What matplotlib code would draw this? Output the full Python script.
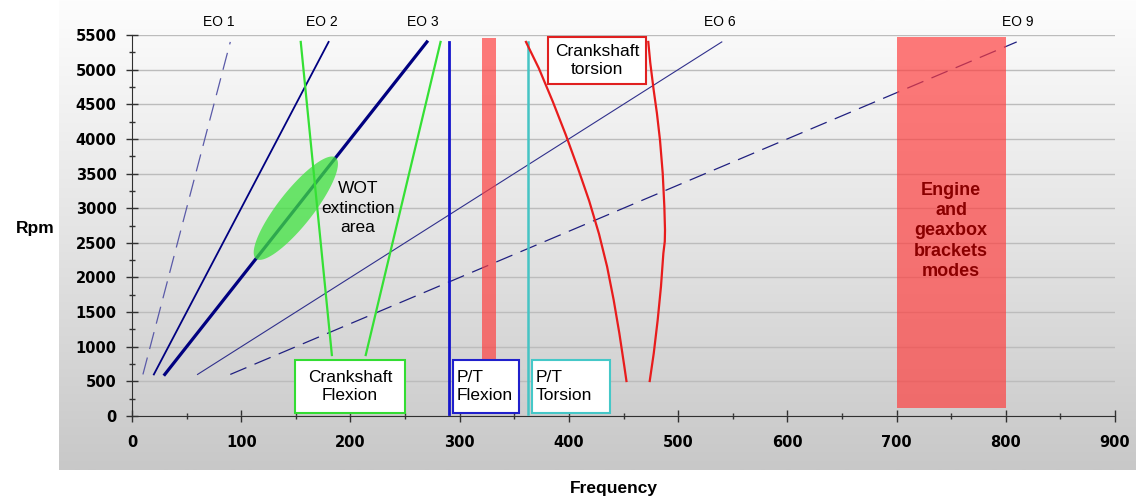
import numpy as np
import matplotlib
matplotlib.use('Agg')
import matplotlib.pyplot as plt
from matplotlib.patches import Rectangle, Polygon
from matplotlib.colors import LinearSegmentedColormap

plt.rcParams['font.family'] = ['Liberation Sans', 'DejaVu Sans']

# engine order lines: frequency at 600 rpm and 5400 rpm
eo_names = ['EO 1', 'EO 2', 'EO 3', 'EO 6', 'EO 9']
eo_rpm = [600, 5400]
eo_f_low = [10, 20, 30, 60, 90]
eo_f_high = [90, 180, 270, 540, 810]
eo_label_f = [79, 174, 266, 538, 811]

# crankshaft flexion (green lines)
flex1_f = [154.5, 183]
flex1_rpm = [5400, 880]
flex2_f = [282.5, 214]
flex2_rpm = [5400, 880]

# crankshaft torsion (red curves)
tors1_f = [360.7, 372.5, 385.3, 397.2, 408.3, 418.6, 427.6, 435.0, 441.0, 446.2, 450.8, 452.7]
tors1_rpm = [5400, 5019, 4537, 4057, 3576, 3104, 2627, 2155, 1675, 1194, 712, 505]
tors2_f = [472.7, 474.5, 477.5, 480.6, 483.4, 485.9, 487.4, 488.0, 487.8, 486.5, 484.3, 481.3, 477.7, 474.0]
tors2_rpm = [5400, 5100, 4720, 4370, 3985, 3504, 3022, 2685, 2520, 2349, 1867, 1386, 905, 505]

# P/T modes (vertical lines)
pt_flexion_f = 290
pt_torsion_f = 362.5
pt_rpm = [30, 5400]

# red bands
band1_f = [320.5, 333.5]
band1_rpm = [808, 5450]
band2_f = [700, 800]
band2_rpm = [115, 5470]

# WOT extinction area (ellipse along EO 3)
wot_center = (150, 3000)

fig = plt.figure(figsize=(11.36, 4.96), dpi=100)

# gray gradient panel behind the chart
bg = fig.add_axes([59 / 1136, 26 / 496, 1 - 59 / 1136, 470 / 496])
grad = np.linspace(0, 1, 256).reshape(-1, 1)
cmap = LinearSegmentedColormap.from_list('bg', ['#fdfdfd', '#e4e4e4', '#c8c8c8'])
bg.imshow(grad, aspect='auto', cmap=cmap, extent=[0, 1, 0, 1])
bg.axis('off')

ax = fig.add_axes([132 / 1136, 80 / 496, 983 / 1136, 381 / 496])
ax.patch.set_alpha(0)
ax.set_xlim(0, 900)
ax.set_ylim(0, 5500)
ax.set_xticks(range(0, 901, 100))
ax.set_xticks(range(50, 900, 100), minor=True)
ax.set_yticks(range(0, 5501, 500))
ax.set_yticks(range(250, 5500, 500), minor=True)
ax.yaxis.grid(True, color='#bcbcbc', lw=1)
ax.set_axisbelow(True)
for s in ['top', 'right']:
    ax.spines[s].set_visible(False)
for s in ['left', 'bottom']:
    ax.spines[s].set_color('#303030')
ax.tick_params(which='major', direction='inout', length=8, width=1, color='#303030')
ax.tick_params(which='minor', direction='inout', length=5, width=1, color='#303030')
ax.tick_params(axis='x', pad=10)
ax.tick_params(axis='y', pad=7)
for lbl in ax.get_xticklabels() + ax.get_yticklabels():
    lbl.set_fontweight('bold')
    lbl.set_family('DejaVu Sans')
    lbl.set_fontsize(10.5)

# engine order lines
eo_styles = [
    dict(color='#5a5aa8', lw=0.9, dashes=(14, 7)),
    dict(color='#000080', lw=1.3),
    dict(color='#000080', lw=2.3),
    dict(color='#30308c', lw=0.8),
    dict(color='#202080', lw=0.9, dashes=(14, 7)),
]
for name, f0, f1, lf, st in zip(eo_names, eo_f_low, eo_f_high, eo_label_f, eo_styles):
    ax.plot([f0, f1], eo_rpm, zorder=3, **st)
    ax.text(lf, 5690, name, ha='center', va='center', fontsize=10, clip_on=False)

# WOT ellipse
t = np.linspace(0, 2 * np.pi, 100)
u = np.array([36.5, 730])
v = np.array([-12.5, 156])
pts = np.column_stack([wot_center[0] + u[0] * np.cos(t) + v[0] * np.sin(t),
                       wot_center[1] + u[1] * np.cos(t) + v[1] * np.sin(t)])
ax.add_patch(Polygon(pts, closed=True, facecolor='#3ee23e', edgecolor='none', alpha=0.75, zorder=4))
ax.text(207, 3000, 'WOT\nextinction\narea', ha='center', va='center', fontsize=12.5,
        linespacing=1.35, zorder=6)

# crankshaft flexion
ax.plot(flex1_f, flex1_rpm, color='#35e035', lw=1.6, zorder=5)
ax.plot(flex2_f, flex2_rpm, color='#35e035', lw=1.6, zorder=5)

# P/T lines
ax.plot([pt_flexion_f] * 2, pt_rpm, color='#1515cc', lw=2, zorder=5)
ax.plot([pt_torsion_f] * 2, pt_rpm, color='#45c4c4', lw=1.8, zorder=5)

# crankshaft torsion curves
ax.plot(tors1_f, tors1_rpm, color='#e81c1c', lw=1.6, zorder=5)
ax.plot(tors2_f, tors2_rpm, color='#e81c1c', lw=1.6, zorder=5)

# red bands
for bf, br in [(band1_f, band1_rpm), (band2_f, band2_rpm)]:
    ax.add_patch(Rectangle((bf[0], br[0]), bf[1] - bf[0], br[1] - br[0],
                           facecolor='#ff3c3c', edgecolor='none', alpha=0.68, zorder=6))
ax.text(750, 2671, 'Engine\nand\ngeaxbox\nbrackets\nmodes', ha='center', va='center',
        fontsize=13, fontweight='bold', color='#8b0000', linespacing=1.25, zorder=7)

# label boxes
boxes = [
    ((149, 43), 101, 765, '#33dd33', 'Crankshaft\nFlexion', 199.5, 'center'),
    ((294, 43), 60, 765, '#2020cc', 'P/T\nFlexion', 297.5, 'left'),
    ((366, 43), 71.5, 765, '#45c8c8', 'P/T\nTorsion', 369.5, 'left'),
    ((381, 4793), 89.5, 678, '#e02020', 'Crankshaft\ntorsion', 425.7, 'center'),
]
for (x0, y0), w, h, col, txt, tx, ha in boxes:
    ax.add_patch(Rectangle((x0, y0), w, h, facecolor='white', edgecolor=col, lw=1.5, zorder=8))
    ax.text(tx, y0 + h / 2, txt, ha=ha, va='center', fontsize=12.5, linespacing=1.3, zorder=9)

fig.text(35 / 1136, 1 - 228 / 496, 'Rpm', ha='center', va='center', fontsize=12.5, fontweight='bold')
fig.text(614 / 1136, 1 - 488 / 496, 'Frequency', ha='center', va='center', fontsize=12.5, fontweight='bold')

fig.savefig('out.png', dpi=100)
